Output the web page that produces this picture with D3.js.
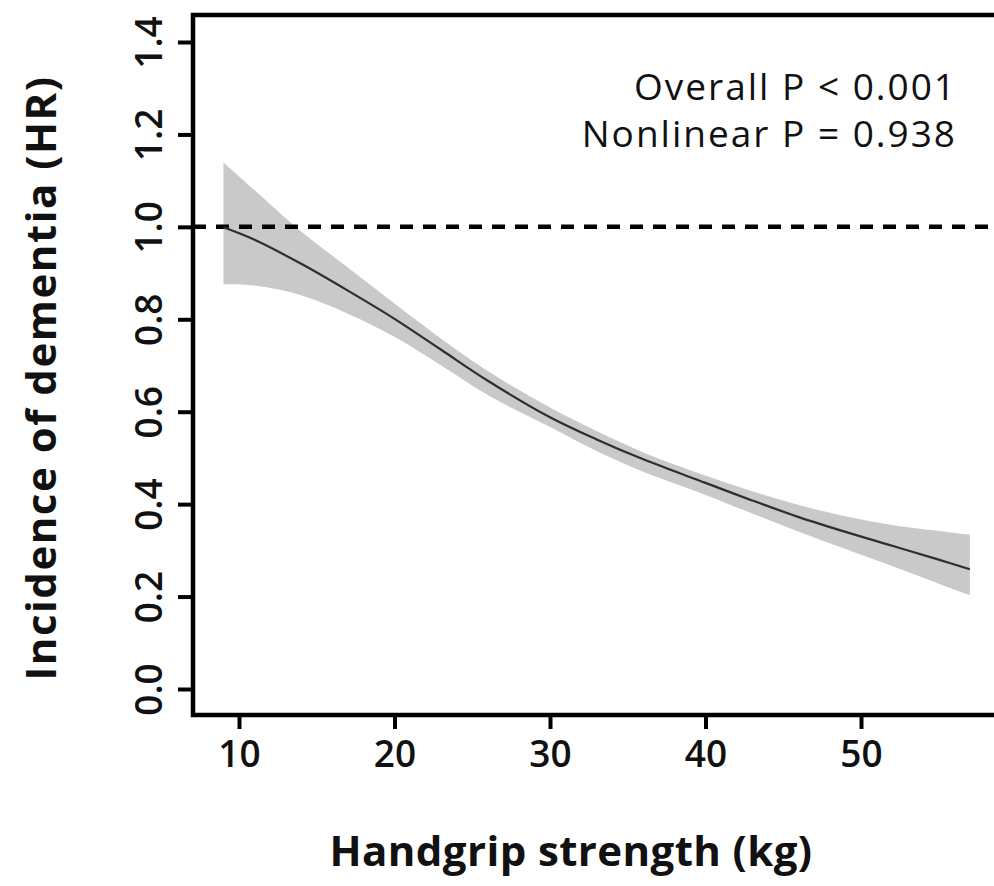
<!DOCTYPE html>
<html>
<head>
<meta charset="utf-8">
<script src="https://cdn.jsdelivr.net/npm/d3@7"></script>
<style>
  body { margin: 0; background: #fff; }
  svg { display: block; font-family: "Open Sans", sans-serif; }
  .tick text { font-family: "Open Sans", sans-serif; font-size: 37px; font-weight: 600; fill: #111; }
  .tick line { stroke: #000; stroke-width: 4; }
  .axis-title { font-size: 42px; font-weight: 700; fill: #111; }
  .note { font-size: 37px; letter-spacing: 2px; fill: #111; }
</style>
</head>
<body>
<div id="chart"></div>
<script>
// Restricted cubic spline: handgrip strength vs dementia HR, with 95% CI band.

const width = 994;
const height = 886;

// values
const grip =  [9, 11, 14, 17, 20, 23, 26, 30, 33, 36, 40, 43, 46, 49, 52, 55, 57];
const hr =    [0.999, 0.972, 0.920, 0.862, 0.801, 0.734, 0.667, 0.588, 0.540, 0.497, 0.446, 0.408, 0.372, 0.340, 0.310, 0.280, 0.259];
const upper = [1.139, 1.079, 0.990, 0.912, 0.834, 0.758, 0.688, 0.609, 0.558, 0.512, 0.462, 0.428, 0.398, 0.374, 0.355, 0.342, 0.334];
const lower = [0.876, 0.873, 0.852, 0.812, 0.762, 0.700, 0.636, 0.567, 0.515, 0.470, 0.420, 0.380, 0.340, 0.303, 0.266, 0.228, 0.203];

const xTicks = [10, 20, 30, 40, 50];
const yTicks = [0, 0.2, 0.4, 0.6, 0.8, 1.0, 1.2, 1.4];
const refHR = 1.0;
const notes = ["Overall P < 0.001", "Nonlinear P = 0.938"];

const data = grip.map((g, i) => ({ grip: g, hr: hr[i], lo: lower[i], hi: upper[i] }));

const svg = d3.select("#chart")
  .append("svg")
  .attr("width", width)
  .attr("height", height);

const xScale = d3.scaleLinear().domain([10, 50]).range([239, 861]);
const yScale = d3.scaleLinear().domain([0, 1.4]).range([689, 42]);

const frame = { left: 193, top: 15, bottom: 715 };

// CI band
const area = d3.area()
  .x(d => xScale(d.grip))
  .y0(d => yScale(d.lo))
  .y1(d => yScale(d.hi))
  .curve(d3.curveCatmullRom);

svg.append("path")
  .datum(data)
  .attr("fill", "#c9c9c9")
  .attr("d", area);

// reference line at HR = 1
svg.append("line")
  .attr("x1", frame.left)
  .attr("x2", width + 10)
  .attr("y1", yScale(refHR))
  .attr("y2", yScale(refHR))
  .attr("stroke", "#000")
  .attr("stroke-width", 4.5)
  .attr("stroke-dasharray", "13,10");

// fitted curve
const line = d3.line()
  .x(d => xScale(d.grip))
  .y(d => yScale(d.hr))
  .curve(d3.curveCatmullRom);

svg.append("path")
  .datum(data)
  .attr("fill", "none")
  .attr("stroke", "#2e2e2e")
  .attr("stroke-width", 2.2)
  .attr("d", line);

// box (right side runs off the picture)
svg.append("rect")
  .attr("x", frame.left)
  .attr("y", frame.top)
  .attr("width", 900)
  .attr("height", frame.bottom - frame.top)
  .attr("fill", "none")
  .attr("stroke", "#000")
  .attr("stroke-width", 4.5);

// axes
const xAxis = svg.append("g")
  .attr("transform", `translate(0, ${frame.bottom})`)
  .call(d3.axisBottom(xScale).tickValues(xTicks).tickSize(14).tickFormat(d3.format("d")));
xAxis.select(".domain").remove();
xAxis.selectAll(".tick text")
  .attr("y", 52)
  .attr("dy", null);

const yAxis = svg.append("g")
  .attr("transform", `translate(${frame.left}, 0)`)
  .call(d3.axisLeft(yScale).tickValues(yTicks).tickSize(15).tickFormat(d3.format(".1f")));
yAxis.select(".domain").remove();
yAxis.selectAll(".tick text")
  .attr("x", null)
  .attr("dy", null)
  .attr("text-anchor", "middle")
  .attr("transform", "translate(-31, 0) rotate(-90)");

// axis titles
svg.append("text")
  .attr("class", "axis-title")
  .attr("x", 571)
  .attr("y", 866)
  .attr("text-anchor", "middle")
  .style("letter-spacing", "0.4px")
  .text("Handgrip strength (kg)");

svg.append("text")
  .attr("class", "axis-title")
  .attr("transform", "translate(56, 378) rotate(-90)")
  .attr("text-anchor", "middle")
  .style("letter-spacing", "1.5px")
  .text("Incidence of dementia (HR)");

// p-values
svg.selectAll(".note")
  .data(notes)
  .join("text")
  .attr("class", "note")
  .attr("x", 957)
  .attr("y", (d, i) => 100 + i * 47)
  .attr("text-anchor", "end")
  .text(d => d);
</script>
</body>
</html>
